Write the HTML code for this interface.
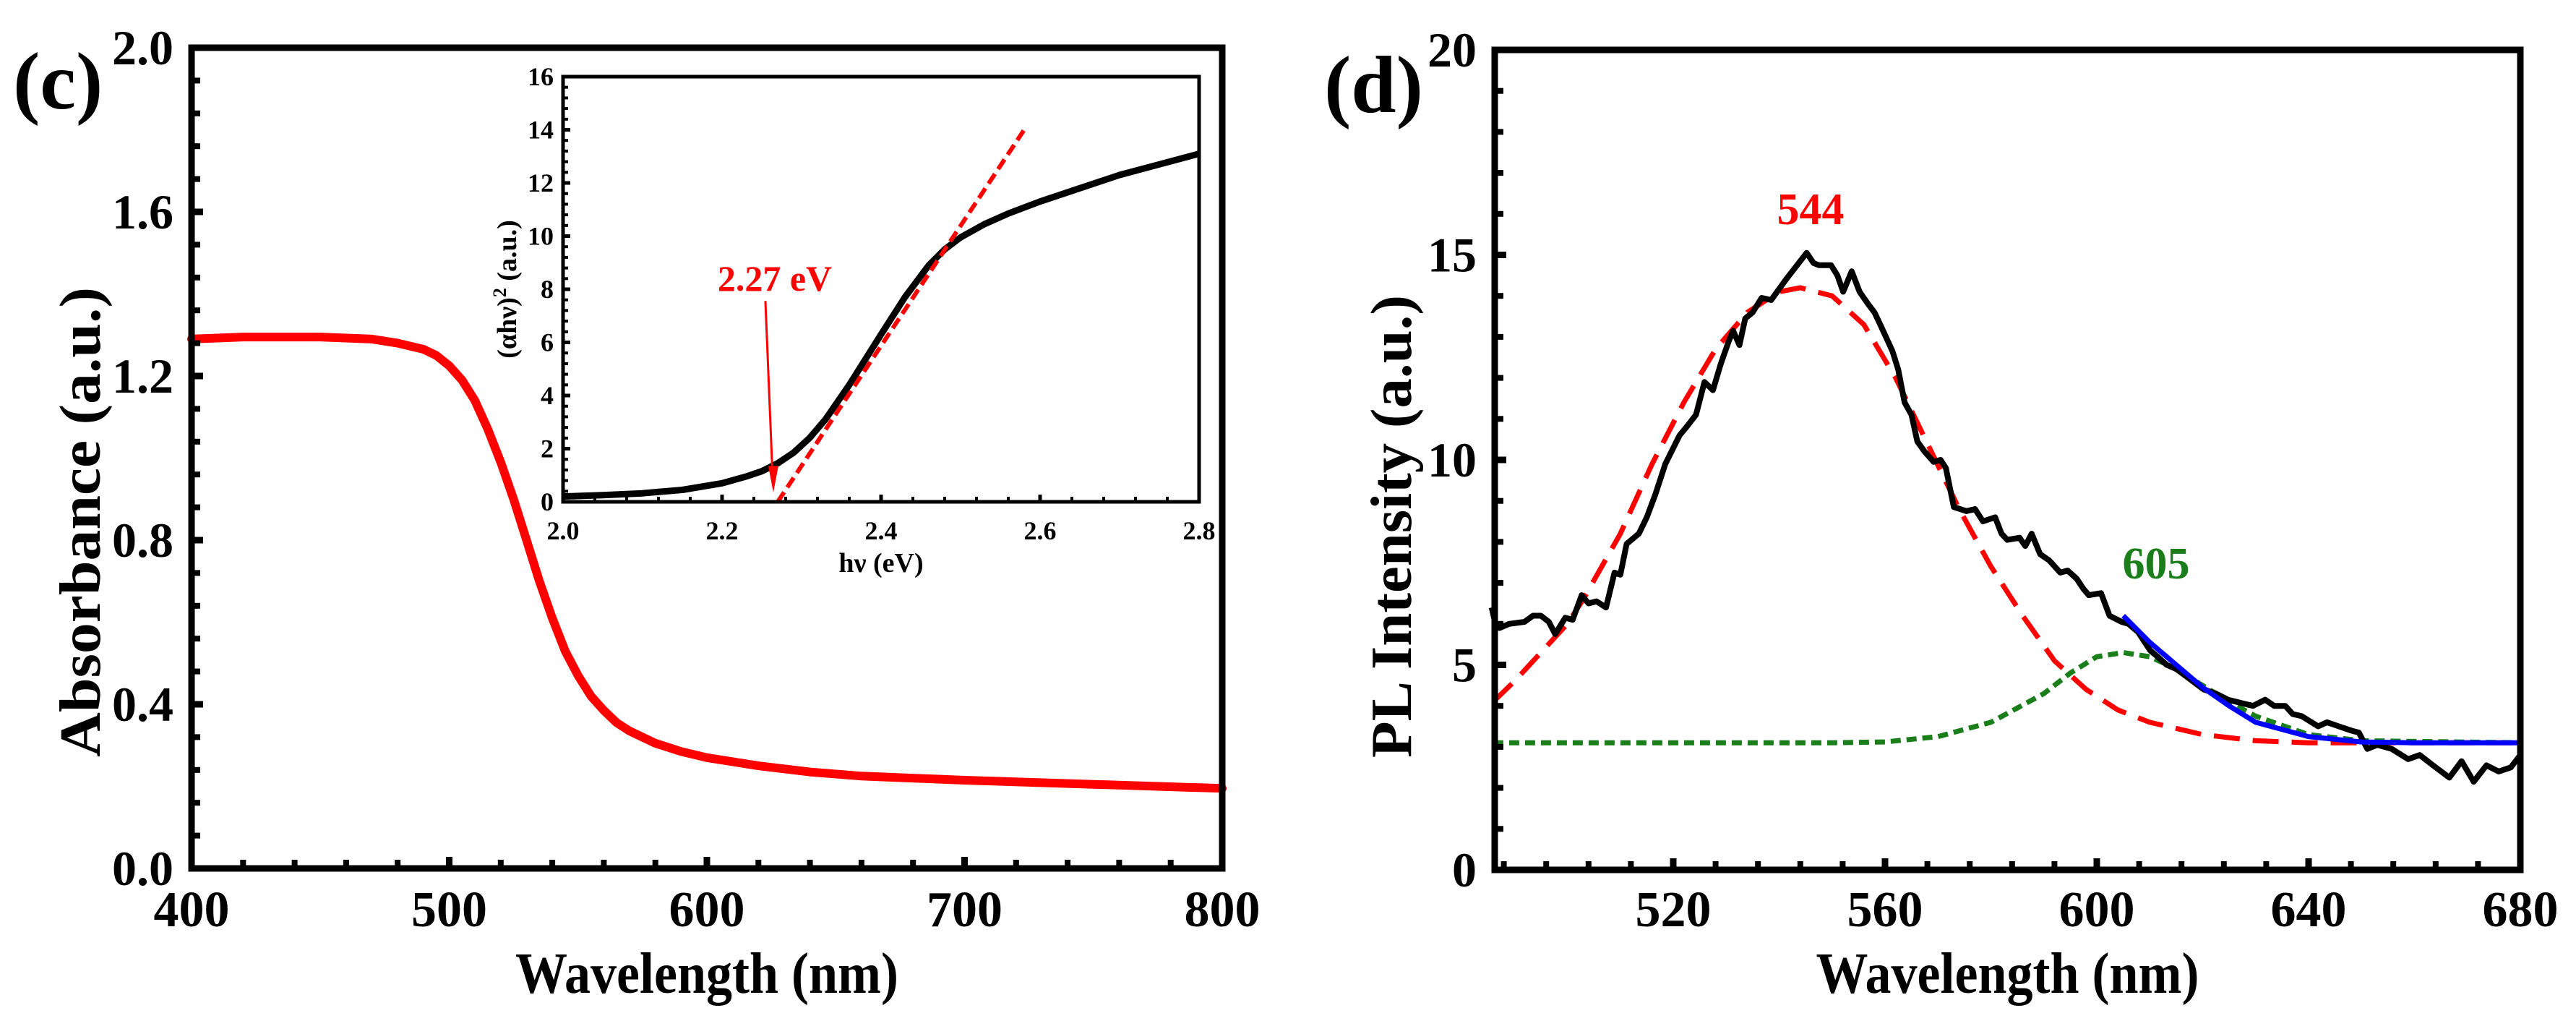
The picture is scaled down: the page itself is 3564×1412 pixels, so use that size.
<!DOCTYPE html>
<html><head><meta charset="utf-8"><style>
html,body{margin:0;padding:0;background:#fff}
svg{display:block}
text{font-family:"Liberation Serif","Times New Roman",serif;font-weight:bold}
</style></head><body>
<svg id="fig" width="3564" height="1412" viewBox="0 0 3564 1412" xmlns="http://www.w3.org/2000/svg">
<g id="pc"></g>
<g id="pi"></g>
<g id="pd"></g>
</svg>
<script>
// Panel (c) absorbance data
const absWl = [400,420,450,470,480,490,495,500,505,510,515,520,525,530,535,540,545,550,555,560,565,570,580,590,600,620,640,660,700,750,800];
const absVal = [1.29,1.295,1.295,1.29,1.28,1.265,1.25,1.225,1.19,1.14,1.07,0.99,0.90,0.80,0.70,0.61,0.53,0.47,0.42,0.385,0.355,0.335,0.305,0.285,0.27,0.25,0.235,0.225,0.215,0.205,0.195];
const cXTicks = [400,500,600,700,800];
const cYTicks = [0.0,0.4,0.8,1.2,1.6,2.0];
const cYTickLabels = ["0.0","0.4","0.8","1.2","1.6","2.0"];
// Inset Tauc data
const tEv = [2.0,2.05,2.1,2.15,2.2,2.23,2.25,2.27,2.29,2.31,2.33,2.36,2.4,2.43,2.46,2.48,2.5,2.53,2.56,2.6,2.65,2.7,2.75,2.8];
const tVal = [0.2,0.25,0.32,0.45,0.7,0.95,1.15,1.45,1.85,2.4,3.1,4.4,6.3,7.7,8.9,9.5,9.95,10.45,10.85,11.3,11.8,12.3,12.7,13.1];
const tFitEv = [2.27,2.58];
const tFitVal = [0,14];
const tXTicks = [2.0,2.2,2.4,2.6,2.8];
const tXTickLabels = ["2.0","2.2","2.4","2.6","2.8"];
const tYTicks = [0,2,4,6,8,10,12,14,16];
// Panel (d) PL data
const plWl = [485.7,486.5,487.2,489,491.9,493.5,495,496.5,497.7,499.6,501,502.7,504,505.5,507.3,508.9,510,511.2,513.5,515,516.6,518.5,521.2,522.5,524.3,525.9,527.5,529,530.5,531.3,532.5,533.6,535,536.7,538.5,541.3,543.7,545.2,546.5,547.5,549.8,551,552.1,553.7,555.2,556.8,558,559.1,561.4,562.5,563.7,565,566.1,567.5,569.2,570.5,571.5,573,575.4,577,578.5,580.8,582,583.1,585.4,586.5,587.7,589.3,591,593.1,594.5,596.2,597.5,598.5,600.8,602.4,604.7,606,607.8,610.1,611.5,613.2,615,617.1,620.2,622.5,624.8,627.9,629.5,631.8,633.5,635.6,637,638.7,641.8,643.5,645.7,648,649.5,651.1,653,655.7,658.8,661,663.5,666.6,668.9,671.2,673.6,675.9,678.2,680];
const plVal = [6.4,5.95,5.9,6.0,6.05,6.2,6.2,6.05,5.75,6.15,6.1,6.7,6.5,6.55,6.4,7.25,7.2,7.95,8.2,8.6,9.15,9.9,10.6,10.8,11.1,11.9,11.7,12.35,12.9,13.15,12.8,13.45,13.6,13.95,13.9,14.4,14.8,15.05,14.8,14.75,14.75,14.5,14.1,14.6,14.1,13.8,13.6,13.3,12.65,12.2,11.4,11.1,10.45,10.2,9.95,10.0,9.8,8.85,8.75,8.8,8.5,8.6,8.2,8.05,8.1,7.9,8.2,7.7,7.55,7.25,7.3,7.1,6.85,6.7,6.75,6.2,6.05,6.0,5.8,5.35,5.2,5.0,4.9,4.7,4.4,4.3,4.15,4.05,4.0,4.15,4.0,4.0,3.8,3.75,3.5,3.6,3.5,3.4,3.35,2.95,3.05,2.95,2.7,2.8,2.55,2.25,2.65,2.15,2.55,2.4,2.5,2.8];
const redWl = [486,490,495,500,503,510,516,522,528,534,540,544,550,556,562,568,574,580,586,592,598,604,610,620,630,640,680];
const redVal = [4.1,4.6,5.3,6.0,6.6,8.2,9.9,11.4,12.7,13.6,14.1,14.2,14.0,13.3,12.0,10.4,8.8,7.4,6.2,5.1,4.4,3.9,3.6,3.3,3.15,3.1,3.1];
const greenWl = [486,520,550,560,570,580,590,595,600,605,610,615,620,625,630,640,650,680];
const greenVal = [3.1,3.1,3.1,3.12,3.25,3.6,4.3,4.8,5.2,5.3,5.2,4.9,4.5,4.1,3.75,3.3,3.15,3.1];
const blueWl = [605,610,615,620,625,630,640,650,660,680];
const blueVal = [6.2,5.55,5.0,4.45,4.0,3.6,3.25,3.12,3.1,3.1];
const dXTicks = [520,560,600,640,680];
const dYTicks = [0,5,10,15,20];

const NS = "http://www.w3.org/2000/svg";
function mk(parent, tag, attrs, txt){
  const e = document.createElementNS(NS, tag);
  for (const k in attrs) e.setAttribute(k, attrs[k]);
  if (txt !== undefined) e.textContent = txt;
  parent.appendChild(e);
  return e;
}
function lin(d0,d1,r0,r1){ return v => r0 + (v-d0)*(r1-r0)/(d1-d0); }
function pathD(xs, ys, sx, sy){ return xs.map((x,i)=>(i?"L":"M")+sx(x).toFixed(1)+" "+sy(ys[i]).toFixed(1)).join(" "); }

function axesFrame(g, x0,y0,x1,y1, sw, name){
  const r = mk(g,"rect",{x:x0,y:y0,width:x1-x0,height:y1-y0,fill:"none",stroke:"#000","stroke-width":sw});
  
  
}
function ticksX(g, sx, vals, y, len, sw){
  vals.forEach(v=>{ const l = mk(g,"line",{x1:sx(v),x2:sx(v),y1:y,y2:y-len,stroke:"#000","stroke-width":sw});
    
     });
}
function ticksY(g, sy, vals, x, len, sw){
  vals.forEach(v=>{ const l = mk(g,"line",{x1:x,x2:x+len,y1:sy(v),y2:sy(v),stroke:"#000","stroke-width":sw});
    
     });
}
function minors(ticks, n){ const out=[]; for(let i=0;i<ticks.length-1;i++){const s=(ticks[i+1]-ticks[i])/(n+1); for(let k=1;k<=n;k++) out.push(ticks[i]+s*k);} return out; }

// ---------- Panel c ----------
(function(){
  const g = document.getElementById("pc");
  const L=265,R=1691,T=66,B=1201;
  const sx = lin(400,800,L,R), sy = lin(0,2,B,T);
  const curve = mk(g,"path",{d:pathD(absWl,absVal,sx,sy),fill:"none",stroke:"#ff0000","stroke-width":12,"stroke-linejoin":"round","stroke-linecap":"round"});
  
  
  axesFrame(g,L,T,R,B,9,"plot-frame-c");
  ticksX(g,sx,cXTicks,B,16,9); ticksX(g,sx,minors(cXTicks,4),B,12,8);
  ticksY(g,sy,cYTicks,L,16,9); ticksY(g,sy,minors(cYTicks,4),L,12,8);
  cXTicks.forEach(v=>{ const t=mk(g,"text",{x:sx(v),y:1281,"font-size":70,"text-anchor":"middle"},String(v));
    
     });
  cYTicks.forEach((v,i)=>{ const t=mk(g,"text",{x:240,y:sy(v)+23,"font-size":68,"text-anchor":"end"},cYTickLabels[i]);
    
     });
  const xt = mk(g,"text",{x:(L+R)/2,y:1373,"font-size":80,"text-anchor":"middle",textLength:530,lengthAdjust:"spacingAndGlyphs"},"Wavelength (nm)");
  
  
  const yt = mk(g,"text",{x:0,y:0,"font-size":80,"text-anchor":"middle",textLength:650,lengthAdjust:"spacingAndGlyphs",transform:"translate(138,722) rotate(-90)"},"Absorbance (a.u.)");
  
  
  const lab = mk(g,"text",{x:18,y:150,"font-size":112},"(c)");
  
  
})();

// ---------- Inset ----------
(function(){
  const g = document.getElementById("pi");
  const L=779,R=1659,T=106,B=694;
  const sx = lin(2.0,2.8,L,R), sy = lin(0,16,B,T);
  mk(g,"rect",{x:L,y:T,width:R-L,height:B-T,fill:"#fff",stroke:"none"});
  const curve = mk(g,"path",{d:pathD(tEv,tVal,sx,sy),fill:"none",stroke:"#000","stroke-width":9,"stroke-linejoin":"round"});
  
  
  const fit = mk(g,"path",{d:pathD(tFitEv,tFitVal,sx,sy),fill:"none",stroke:"#ff0000","stroke-width":6,"stroke-dasharray":"16 8"});
  
  
  axesFrame(g,L,T,R,B,5,"inset-frame");
  ticksX(g,sx,tXTicks,B,10,5); ticksX(g,sx,minors(tXTicks,4),B,7,4);
  ticksY(g,sy,tYTicks,L,10,5); ticksY(g,sy,minors(tYTicks,4),L,7,4);
  tXTicks.forEach((v,i)=>{ const t=mk(g,"text",{x:sx(v),y:746,"font-size":36,"text-anchor":"middle"},tXTickLabels[i]);
    
     });
  tYTicks.forEach(v=>{ const t=mk(g,"text",{x:766,y:sy(v)+12,"font-size":36,"text-anchor":"end"},String(v));
    
     });
  const xt = mk(g,"text",{x:(L+R)/2,y:791,"font-size":38,"text-anchor":"middle"},"hν (eV)");
  
  
  const yt = mk(g,"text",{x:0,y:0,"font-size":38,"text-anchor":"middle",transform:"translate(714,400) rotate(-90)"});
  
  
  mk(yt,"tspan",{},"(αhν)");
  mk(yt,"tspan",{"font-size":26,dy:-14},"2");
  mk(yt,"tspan",{dy:14}," (a.u.)");
  const arrow = mk(g,"line",{x1:sx(2.2545),y1:sy(7.56),x2:sx(2.2635),y2:sy(1.0),stroke:"#ff0000","stroke-width":3});
  
  
  const tip = mk(g,"polygon",{points:`${sx(2.2645)},${sy(0.35)} ${sx(2.2645)-7},${sy(1.35)} ${sx(2.2645)+7},${sy(1.35)}`,fill:"#ff0000"});
  
  
  const lbl = mk(g,"text",{x:1072,y:402,"font-size":50,"text-anchor":"middle",fill:"#ff0000"},"2.27 eV");
  
  
})();

// ---------- Panel d ----------
(function(){
  const g = document.getElementById("pd");
  const L=2068,R=3487,T=69,B=1203;
  const sx = lin(520,680,2315,3487), sy = lin(0,20,B,T);
  const red = mk(g,"path",{d:pathD(redWl,redVal,sx,sy),fill:"none",stroke:"#ff0000","stroke-width":7,"stroke-dasharray":"36 18"});
  
  
  const green = mk(g,"path",{d:pathD(greenWl,greenVal,sx,sy),fill:"none",stroke:"#1a7f1a","stroke-width":7,"stroke-dasharray":"14 8"});
  
  
  const pl = mk(g,"path",{d:pathD(plWl,plVal,sx,sy),fill:"none",stroke:"#000","stroke-width":8,"stroke-linejoin":"round"});
  
  
  const blue = mk(g,"path",{d:pathD(blueWl,blueVal,sx,sy),fill:"none",stroke:"#0000ff","stroke-width":7});
  
  
  axesFrame(g,L,T,R,B,9,"plot-frame-d");
  const xm = []; for(let v=488; v<680; v+=8){ if (dXTicks.indexOf(v)<0) xm.push(v); }
  ticksX(g,sx,dXTicks,B,16,9); ticksX(g,sx,xm,B,12,8);
  ticksY(g,sy,dYTicks,L,16,9); ticksY(g,sy,minors(dYTicks,4),L,12,8);
  dXTicks.forEach(v=>{ const t=mk(g,"text",{x:sx(v),y:1281,"font-size":70,"text-anchor":"middle"},String(v));
    
     });
  dYTicks.forEach(v=>{ const t=mk(g,"text",{x:2043,y:sy(v)+23,"font-size":68,"text-anchor":"end"},String(v));
    
     });
  const xt = mk(g,"text",{x:(L+R)/2,y:1373,"font-size":80,"text-anchor":"middle",textLength:530,lengthAdjust:"spacingAndGlyphs"},"Wavelength (nm)");
  
  
  const yt = mk(g,"text",{x:0,y:0,"font-size":80,"text-anchor":"middle",textLength:640,lengthAdjust:"spacingAndGlyphs",transform:"translate(1952,728) rotate(-90)"},"PL Intensity (a.u.)");
  
  
  const lab = mk(g,"text",{x:1832,y:155,"font-size":112},"(d)");
  
  
  const p1 = mk(g,"text",{x:2505,y:310,"font-size":62,"text-anchor":"middle",fill:"#ff0000"},"544");
  
  
  const p2 = mk(g,"text",{x:2983,y:800,"font-size":62,"text-anchor":"middle",fill:"#1a7f1a"},"605");
  
  
})();
</script>
</body></html>
